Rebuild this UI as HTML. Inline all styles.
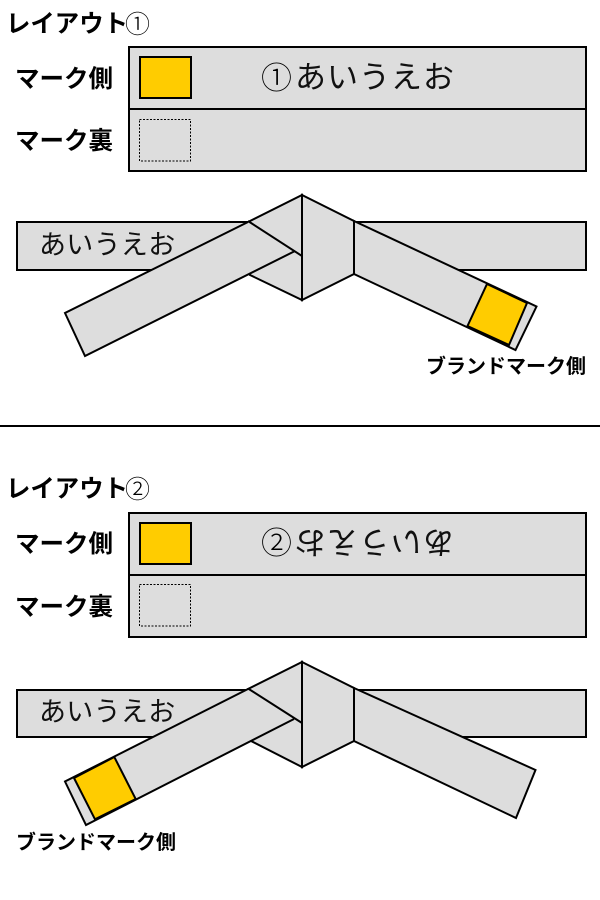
<!DOCTYPE html>
<html lang="ja">
<head>
<meta charset="utf-8">
<style>
html,body{margin:0;padding:0;background:#fff}
svg{display:block}
.b{font-family:"Liberation Sans","Noto Sans CJK JP",sans-serif;font-weight:700;fill:#000}
.c{font-family:"Liberation Sans","Noto Sans CJK JP",sans-serif;font-weight:300;fill:#000}
.t{font-family:"Liberation Sans","Noto Sans CJK JP",sans-serif;font-weight:400;fill:#111}
.s{fill:#ddd;stroke:#000;stroke-width:2;stroke-linejoin:miter}
.f{fill:#ddd;stroke:none}
.y{fill:#fc0;stroke:#000;stroke-width:2}
.l{fill:none;stroke:#000;stroke-width:2}
.d{fill:none;stroke:#000;stroke-width:1;stroke-dasharray:2 1.5}
</style>
</head>
<body>
<svg width="600" height="900" viewBox="0 0 600 900" xmlns="http://www.w3.org/2000/svg">
<rect width="600" height="900" fill="#fff"/>

<!-- Layout 1 -->
<text class="b" x="6" y="32" font-size="24.5" textLength="122" lengthAdjust="spacingAndGlyphs">レイアウト</text>
<text class="c" x="125" y="33" font-size="25">①</text>
<text class="b" x="15" y="87" font-size="24.5">マーク側</text>
<text class="b" x="15" y="149" font-size="24.5">マーク裏</text>
<rect class="s" x="129" y="47" width="457" height="124"/>
<line class="l" x1="129" y1="109" x2="586" y2="109"/>
<rect class="y" x="140" y="57" width="51" height="41"/>
<rect class="d" x="139.5" y="119.5" width="51" height="41.5"/>
<text class="c" x="261" y="89" font-size="31">①</text>
<text class="t" x="295" y="88" font-size="31" letter-spacing="1">あいうえお</text>

<rect class="s" x="17" y="222" width="569" height="48"/>
<text class="t" x="39" y="254" font-size="27" letter-spacing="0.3">あいうえお</text>
<polygon class="s" points="354,221 536.5,306.5 515.5,350 354,274"/>
<polygon class="y" points="487,284 527,303 509,345 467.5,326"/>
<polygon class="s" points="248,222 302,195 302,300 250,275"/>
<polygon class="s" points="302,195 354,221 354,274 302,300"/>
<polygon class="f" points="65,313 248,222 301,255 295,251 85,356"/>
<polyline class="l" points="302,256 248,221"/>
<polyline class="l" points="248,222 65,313 85,356 295,251"/>
<text class="b" x="426" y="373" font-size="20">ブランドマーク側</text>

<line class="l" x1="0" y1="426" x2="600" y2="426"/>

<!-- Layout 2 -->
<text class="b" x="6" y="497" font-size="24.5" textLength="122" lengthAdjust="spacingAndGlyphs">レイアウト</text>
<text class="c" x="125" y="498" font-size="25">②</text>
<text class="b" x="15" y="552" font-size="24.5">マーク側</text>
<text class="b" x="15" y="615" font-size="24.5">マーク裏</text>
<rect class="s" x="129" y="513" width="457" height="124"/>
<line class="l" x1="129" y1="575" x2="586" y2="575"/>
<rect class="y" x="140" y="523" width="51" height="41"/>
<rect class="d" x="139.5" y="584.5" width="51" height="41.5"/>
<text class="c" x="261" y="554" font-size="31">②</text>
<text class="t" x="0" y="0" font-size="31" letter-spacing="1" transform="translate(454,531) rotate(180)">あいうえお</text>

<rect class="s" x="17" y="690" width="569" height="47"/>
<text class="t" x="39" y="721" font-size="27" letter-spacing="0.3">あいうえお</text>
<polygon class="s" points="354,688 535.5,770 516,818 354,741"/>
<polygon class="s" points="248,689 302,662 302,767 251,741"/>
<polygon class="s" points="302,662 354,688 354,741 302,767"/>
<polygon class="f" points="65,781.5 248,689 301,722 294,719 86,825"/>
<polyline class="l" points="302,723 248,688.5"/>
<polyline class="l" points="248,689 65,781.5 86,825 294,719"/>
<polygon class="y" points="74,778 114.3,757 135.7,799 95,819.3"/>
<text class="b" x="16" y="849" font-size="20">ブランドマーク側</text>
</svg>
</body>
</html>
